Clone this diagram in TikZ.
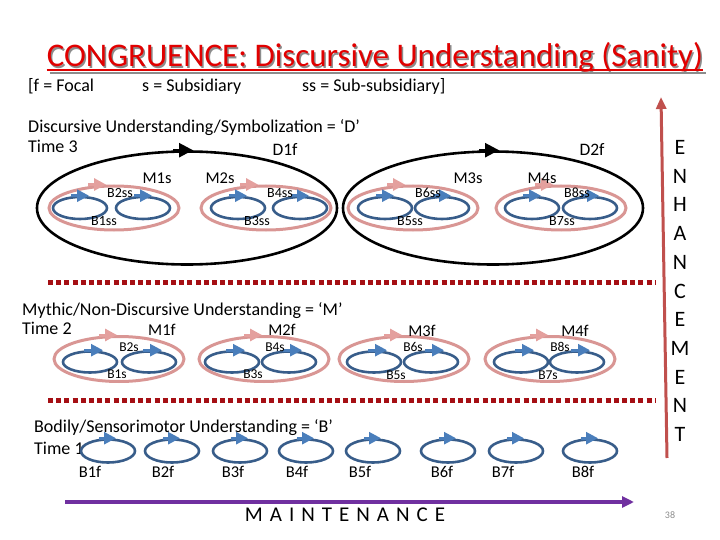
\documentclass[tikz,border=0pt]{standalone}
\usepackage{fontspec}
\setmainfont{Carlito}
\usepackage{xcolor}
\usetikzlibrary{shapes.geometric, arrows.meta, positioning}
\definecolor{ttred}{RGB}{225,0,0}
\definecolor{bdark}{RGB}{56,93,138}
\definecolor{blight}{RGB}{74,126,187}
\definecolor{mpink}{RGB}{217,150,148}
\definecolor{mpinkl}{RGB}{228,160,158}
\definecolor{sepred}{RGB}{165,15,20}
\definecolor{enhred}{RGB}{192,80,77}
\definecolor{mpurple}{RGB}{112,48,160}

\begin{document}
\begin{tikzpicture}[x=1pt, y=-1pt,
  every node/.style={inner sep=0pt, font=\fontsize{14}{16}\selectfont},
  title/.style={anchor=base, text=ttred, font=\fontsize{33}{37}\selectfont},
  legend/.style={anchor=base west, font=\fontsize{18}{21}\selectfont},
  heading/.style={anchor=base west, font=\fontsize{18}{21}\selectfont},
  dloop/.style={ellipse, draw=black, line width=2.6pt,
                minimum width=300pt, minimum height=113pt},
  mloop/.style={ellipse, draw=mpink, line width=3pt,
                minimum width=130pt, minimum height=45pt},
  bloop/.style={ellipse, draw=bdark, line width=2.6pt,
                minimum width=54pt, minimum height=22pt},
  darrow/.style={-{Triangle[length=14pt, width=14pt]}, line width=2.6pt, black},
  marrow/.style={-{Triangle[length=12pt, width=12pt]}, line width=3pt, mpinkl},
  barrow/.style={-{Triangle[length=12pt, width=12pt]}, line width=2.6pt, blight},
  flbl/.style={font=\fontsize{17.5}{20}\selectfont},
  slbl/.style={font=\fontsize{16.5}{19}\selectfont},
  sslbl/.style={font=\fontsize{14}{16}\selectfont},
  bslbl/.style={font=\fontsize{13.5}{16}\selectfont},
  bflbl/.style={font=\fontsize{16.5}{19}\selectfont},
  sep/.style={draw=sepred, line width=5pt, dash pattern=on 5pt off 3.2pt},
]
\useasboundingbox (0,0) rectangle (720,540);

% ── Title ──
\node[title, text=black!45] (titleshadow) at (376.5,68.5) {CONGRUENCE: Discursive Understanding (Sanity)};
\draw[black!45, line width=1.7pt] ([xshift=1.5pt, yshift=-4.5pt]titleshadow.base west) -- ([xshift=1.5pt, yshift=-4.5pt]titleshadow.base east);
\node[title] (title) at (375,67) {CONGRUENCE: Discursive Understanding (Sanity)};
\draw[ttred, line width=1.7pt] ([yshift=-3pt]title.base west) -- ([yshift=-3pt]title.base east);

\node[legend] (lgf)  at (28,91.5)  {[f = Focal};
\node[legend] (lgs)  at (142,91.5) {s = Subsidiary};
\node[legend] (lgss) at (302,91.5) {ss = Sub-subsidiary]};

% ── Time 3: discursive ──
\node[heading] (hD)  at (28,132.5) {Discursive Understanding/Symbolization = ‘D’};
\node[heading] (tD)  at (28,152.5) {Time 3};

\node[dloop] (D1) at (187,208) {};
\node[dloop] (D2) at (493,208) {};

\node[mloop, minimum height=44pt] (M1s) at (114,208) {};
\node[mloop, minimum height=44pt] (M2s) at (266,208) {};
\node[mloop, minimum height=44pt] (M3s) at (413,208) {};
\node[mloop, minimum height=44pt] (M4s) at (561,208) {};

\node[bloop] (B1ss) at (80,208)  {};
\node[bloop] (B2ss) at (143,208) {};
\node[bloop] (B3ss) at (238,208) {};
\node[bloop] (B4ss) at (300,208) {};
\node[bloop] (B5ss) at (385,208) {};
\node[bloop] (B6ss) at (442,208) {};
\node[bloop] (B7ss) at (532,208) {};
\node[bloop] (B8ss) at (590,208) {};

\draw[darrow] ([xshift=-14pt]D1.north) -- ([xshift=6pt]D1.north);
\draw[darrow] ([xshift=-14pt]D2.north) -- ([xshift=6pt]D2.north);
\draw[marrow] ([xshift=-26pt]M1s.north) -- ([xshift=-8pt]M1s.north);
\draw[marrow] ([xshift=-26pt]M2s.north) -- ([xshift=-8pt]M2s.north);
\draw[marrow] ([xshift=-26pt]M3s.north) -- ([xshift=-8pt]M3s.north);
\draw[marrow] ([xshift=-26pt]M4s.north) -- ([xshift=-8pt]M4s.north);
\draw[barrow] ([xshift=-9pt]B1ss.north) -- ([xshift=9pt]B1ss.north);
\draw[barrow] ([xshift=-9pt]B2ss.north) -- ([xshift=9pt]B2ss.north);
\draw[barrow] ([xshift=-9pt]B3ss.north) -- ([xshift=9pt]B3ss.north);
\draw[barrow] ([xshift=-9pt]B4ss.north) -- ([xshift=9pt]B4ss.north);
\draw[barrow] ([xshift=-9pt]B5ss.north) -- ([xshift=9pt]B5ss.north);
\draw[barrow] ([xshift=-9pt]B6ss.north) -- ([xshift=9pt]B6ss.north);
\draw[barrow] ([xshift=-9pt]B7ss.north) -- ([xshift=9pt]B7ss.north);
\draw[barrow] ([xshift=-9pt]B8ss.north) -- ([xshift=9pt]B8ss.north);

\node[flbl] (lD1f) at (285,150) {D1f};
\node[flbl] (lD2f) at (592,150) {D2f};
\node[slbl] (lM1s) at (157,178) {M1s};
\node[slbl] (lM2s) at (220,178) {M2s};
\node[slbl] (lM3s) at (468,178) {M3s};
\node[slbl] (lM4s) at (542,178) {M4s};
\node[sslbl] (lB2ss) at (120,193) {B2ss};
\node[sslbl] (lB1ss) at (104,221) {B1ss};
\node[sslbl] (lB4ss) at (280,193) {B4ss};
\node[sslbl] (lB3ss) at (257,221) {B3ss};
\node[sslbl] (lB6ss) at (428,193) {B6ss};
\node[sslbl] (lB5ss) at (410,221) {B5ss};
\node[sslbl] (lB8ss) at (577,193) {B8ss};
\node[sslbl] (lB7ss) at (562,221) {B7ss};

% ── Separators ──
\coordinate (sepA1) at (48,282);
\coordinate (sepA2) at (655,282);
\coordinate (sepB1) at (48,400);
\coordinate (sepB2) at (655,400);
\draw[sep] (sepA1) -- (sepA2);
\draw[sep] (sepB1) -- (sepB2);

% ── Time 2: mythic ──
\node[heading] (hM) at (22,315)   {Mythic/Non-Discursive Understanding = ‘M’};
\node[heading] (tM) at (22,334.5) {Time 2};

\node[mloop] (M1f) at (119,359) {};
\node[mloop] (M2f) at (264,359) {};
\node[mloop] (M3f) at (404,359) {};
\node[mloop] (M4f) at (550,359) {};

\node[bloop, minimum height=21pt] (B1s) at (90,362)  {};
\node[bloop, minimum height=21pt] (B2s) at (149,362) {};
\node[bloop, minimum height=21pt] (B3s) at (232,362) {};
\node[bloop, minimum height=21pt] (B4s) at (289,362) {};
\node[bloop, minimum height=21pt] (B5s) at (374,362) {};
\node[bloop, minimum height=21pt] (B6s) at (431,362) {};
\node[bloop, minimum height=21pt] (B7s) at (521,362) {};
\node[bloop, minimum height=21pt] (B8s) at (577,362) {};

\draw[marrow] ([xshift=-20pt]M1f.north) -- ([xshift=-2pt]M1f.north);
\draw[marrow] ([xshift=-20pt]M2f.north) -- ([xshift=-2pt]M2f.north);
\draw[marrow] ([xshift=-20pt]M3f.north) -- ([xshift=-2pt]M3f.north);
\draw[marrow] ([xshift=-20pt]M4f.north) -- ([xshift=-2pt]M4f.north);
\draw[barrow] ([xshift=-6pt]B1s.north) -- ([xshift=13pt]B1s.north);
\draw[barrow] ([xshift=-6pt]B2s.north) -- ([xshift=13pt]B2s.north);
\draw[barrow] ([xshift=-6pt]B3s.north) -- ([xshift=13pt]B3s.north);
\draw[barrow] ([xshift=-6pt]B4s.north) -- ([xshift=13pt]B4s.north);
\draw[barrow] ([xshift=-6pt]B5s.north) -- ([xshift=13pt]B5s.north);
\draw[barrow] ([xshift=-6pt]B6s.north) -- ([xshift=13pt]B6s.north);
\draw[barrow] ([xshift=-6pt]B7s.north) -- ([xshift=13pt]B7s.north);
\draw[barrow] ([xshift=-6pt]B8s.north) -- ([xshift=13pt]B8s.north);

\node[slbl] (lM1f) at (162,330) {M1f};
\node[slbl] (lM2f) at (282,330) {M2f};
\node[slbl] (lM3f) at (422,331) {M3f};
\node[slbl] (lM4f) at (575,331) {M4f};
\node[bslbl] (lB2s) at (129,347) {B2s};
\node[bslbl] (lB4s) at (275,347) {B4s};
\node[bslbl] (lB6s) at (413,347) {B6s};
\node[bslbl] (lB8s) at (560,347) {B8s};
\node[bslbl] (lB1s) at (117,374) {B1s};
\node[bslbl] (lB3s) at (253,374) {B3s};
\node[bslbl] (lB5s) at (396,375) {B5s};
\node[bslbl] (lB7s) at (548,375) {B7s};

% ── Time 1: bodily ──
\node[heading] (hB) at (34,432.5) {Bodily/Sensorimotor Understanding = ‘B’};
\node[heading] (tB) at (34,454)   {Time 1};

\node[bloop, minimum height=23pt] (B1f) at (108,451) {};
\node[bloop, minimum height=23pt] (B2f) at (172,451) {};
\node[bloop, minimum height=23pt] (B3f) at (240,451) {};
\node[bloop, minimum height=23pt] (B4f) at (306,451) {};
\node[bloop, minimum height=23pt] (B5f) at (373,451) {};
\node[bloop, minimum height=23pt] (B6f) at (448,451) {};
\node[bloop, minimum height=23pt] (B7f) at (516,451) {};
\node[bloop, minimum height=23pt] (B8f) at (590,451) {};

\draw[barrow] ([xshift=-9pt]B1f.north) -- ([xshift=8pt]B1f.north);
\draw[barrow] ([xshift=-9pt]B2f.north) -- ([xshift=8pt]B2f.north);
\draw[barrow] ([xshift=-9pt]B3f.north) -- ([xshift=8pt]B3f.north);
\draw[barrow] ([xshift=-9pt]B4f.north) -- ([xshift=8pt]B4f.north);
\draw[barrow] ([xshift=-9pt]B5f.north) -- ([xshift=8pt]B5f.north);
\draw[barrow] ([xshift=-9pt]B6f.north) -- ([xshift=8pt]B6f.north);
\draw[barrow] ([xshift=-9pt]B7f.north) -- ([xshift=8pt]B7f.north);
\draw[barrow] ([xshift=-9pt]B8f.north) -- ([xshift=8pt]B8f.north);

\node[bflbl] (lB1f) at (90,472)  {B1f};
\node[bflbl] (lB2f) at (163,472) {B2f};
\node[bflbl] (lB3f) at (233,472) {B3f};
\node[bflbl] (lB4f) at (297,472) {B4f};
\node[bflbl] (lB5f) at (360,472) {B5f};
\node[bflbl] (lB6f) at (442,472) {B6f};
\node[bflbl] (lB7f) at (503,472) {B7f};
\node[bflbl] (lB8f) at (583,472) {B8f};

% ── Axes ──
\coordinate (mnt1) at (65,502);
\coordinate (mnt2) at (634,502);
\draw[-{Triangle[length=12pt, width=11pt]}, line width=3.5pt, mpurple] (mnt1) -- (mnt2);
\node[font=\fontsize{21}{24}\selectfont] (mnt) at (345,515) {\spaceskip=7pt M A I N T E N A N C E};

\coordinate (enh1) at (667,458);
\coordinate (enh2) at (661,97);
\draw[-{Triangle[length=12pt, width=10pt]}, line width=3pt, enhred] (enh1) -- (enh2);
\node[font=\fontsize{22}{28.7}\selectfont, align=center] (enh) at (680,291)
  {E\\N\\H\\A\\N\\C\\E\\M\\E\\N\\T};

\node[text=black!45, font=\fontsize{10}{12}\selectfont] (pg) at (670,515) {38};
\end{tikzpicture}
\end{document}
